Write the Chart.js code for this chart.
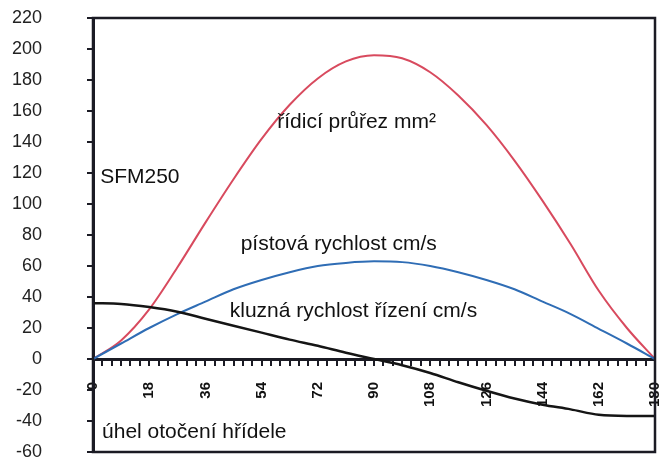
<!DOCTYPE html>
<html><head><meta charset="utf-8">
<script src="https://cdn.jsdelivr.net/npm/chart.js@4.4.1/dist/chart.umd.min.js"></script>
<style>html,body{margin:0;padding:0;background:#fff;}#wrap{width:660px;height:461px;}</style>
</head><body><div id="wrap"><canvas id="c" width="660" height="461"></canvas></div>
<script>
// shaft rotation angle (degrees)
const DEGREES = [0,9,18,27,36,45,54,63,72,81,90,99,108,117,126,135,144,153,162,171,180];
// řídicí průřez mm²
const CROSS_SECTION = [0,12,32,59,88,116,142,164,181,192,196,194,185,170,151,128,102,74,44,20,0];
// pístová rychlost cm/s
const PISTON_SPEED = [0,10,20,29,37,45,51,56,60,62,63,62.5,60,56,51,45,37,29,19.5,10,0];
// kluzná rychlost řízení cm/s
const SLIDE_SPEED = [36,35.5,33.5,30.5,26,21.5,17,12.5,8.5,4,0,-4,-9,-15,-20.5,-25.5,-29.5,-32.5,-36,-36.7,-36.7];
const X_TICK_LABELS = [0,18,36,54,72,90,108,126,144,162,180];
const Y_MIN = -60, Y_MAX = 220, Y_STEP = 20;

const LABELS = [
  {text:'řídicí průřez mm²', deg:59, val:153},
  {text:'SFM250', deg:2.3, val:117},
  {text:'pístová rychlost cm/s', deg:47.3, val:74},
  {text:'kluzná rychlost řízení cm/s', deg:43.8, val:31},
  {text:'úhel otočení hřídele', deg:2.9, val:-47}
];

const INK = '#1b1b24';
const toPts = arr => DEGREES.map((d,i)=>({x:d, y:arr[i]}));

const overlay = {
  id:'overlay',
  afterDraw(chart){
    const {ctx, chartArea:a, scales:{x,y}} = chart;
    ctx.save();
    ctx.strokeStyle = INK; ctx.lineWidth = 2.5;
    ctx.strokeRect(a.left, a.top, a.right-a.left, a.bottom-a.top);
    ctx.font = '21px "Liberation Sans", Arial, sans-serif';
    ctx.fillStyle = '#111'; ctx.textBaseline = 'middle'; ctx.textAlign = 'left';
    for (const l of LABELS) ctx.fillText(l.text, x.getPixelForValue(l.deg), y.getPixelForValue(l.val));
    ctx.restore();
  }
};

new Chart(document.getElementById('c'), {
  type:'line',
  data:{datasets:[
    {label:'kluzná rychlost řízení cm/s', data:toPts(SLIDE_SPEED), borderColor:'#151515', borderWidth:2.5, cubicInterpolationMode:'monotone'},
    {label:'pístová rychlost cm/s', data:toPts(PISTON_SPEED), borderColor:'#2f6db5', borderWidth:2, cubicInterpolationMode:'monotone'},
    {label:'řídicí průřez mm²', data:toPts(CROSS_SECTION), borderColor:'#d84a5e', borderWidth:2, cubicInterpolationMode:'monotone'}
  ]},
  options:{
    responsive:false, animation:false, devicePixelRatio:1,
    layout:{padding:{left:0, top:18, right:5, bottom:9}},
    elements:{point:{radius:0}},
    plugins:{legend:{display:false}, tooltip:{enabled:false}},
    scales:{
      x:{type:'linear', position:{y:0}, min:0, max:180,
        afterFit:s => { s.height = 0; s.paddingLeft = 0; s.paddingRight = 0; s.paddingTop = 0; s.paddingBottom = 0; },
        ticks:{stepSize:3, autoSkip:false, minRotation:90, maxRotation:90, padding:18,
          font:{family:'"Liberation Sans", Arial, sans-serif', size:15, weight:'bold'}, color:'#111',
          callback:v => X_TICK_LABELS.includes(v) ? String(v) : ''},
        grid:{drawOnChartArea:false, tickLength:5, lineWidth:2, color:INK},
        border:{color:INK, width:3}
      },
      y:{min:Y_MIN, max:Y_MAX,
        afterFit:s => { s.width = 93; s.paddingTop = 0; s.paddingBottom = 0; },
        ticks:{stepSize:Y_STEP, padding:45, color:'#222',
          font:{family:'"Liberation Sans", Arial, sans-serif', size:18}},
        grid:{drawOnChartArea:false, tickLength:6, lineWidth:2, color:INK},
        border:{color:INK, width:3}
      }
    }
  },
  plugins:[overlay]
});
</script></body></html>
